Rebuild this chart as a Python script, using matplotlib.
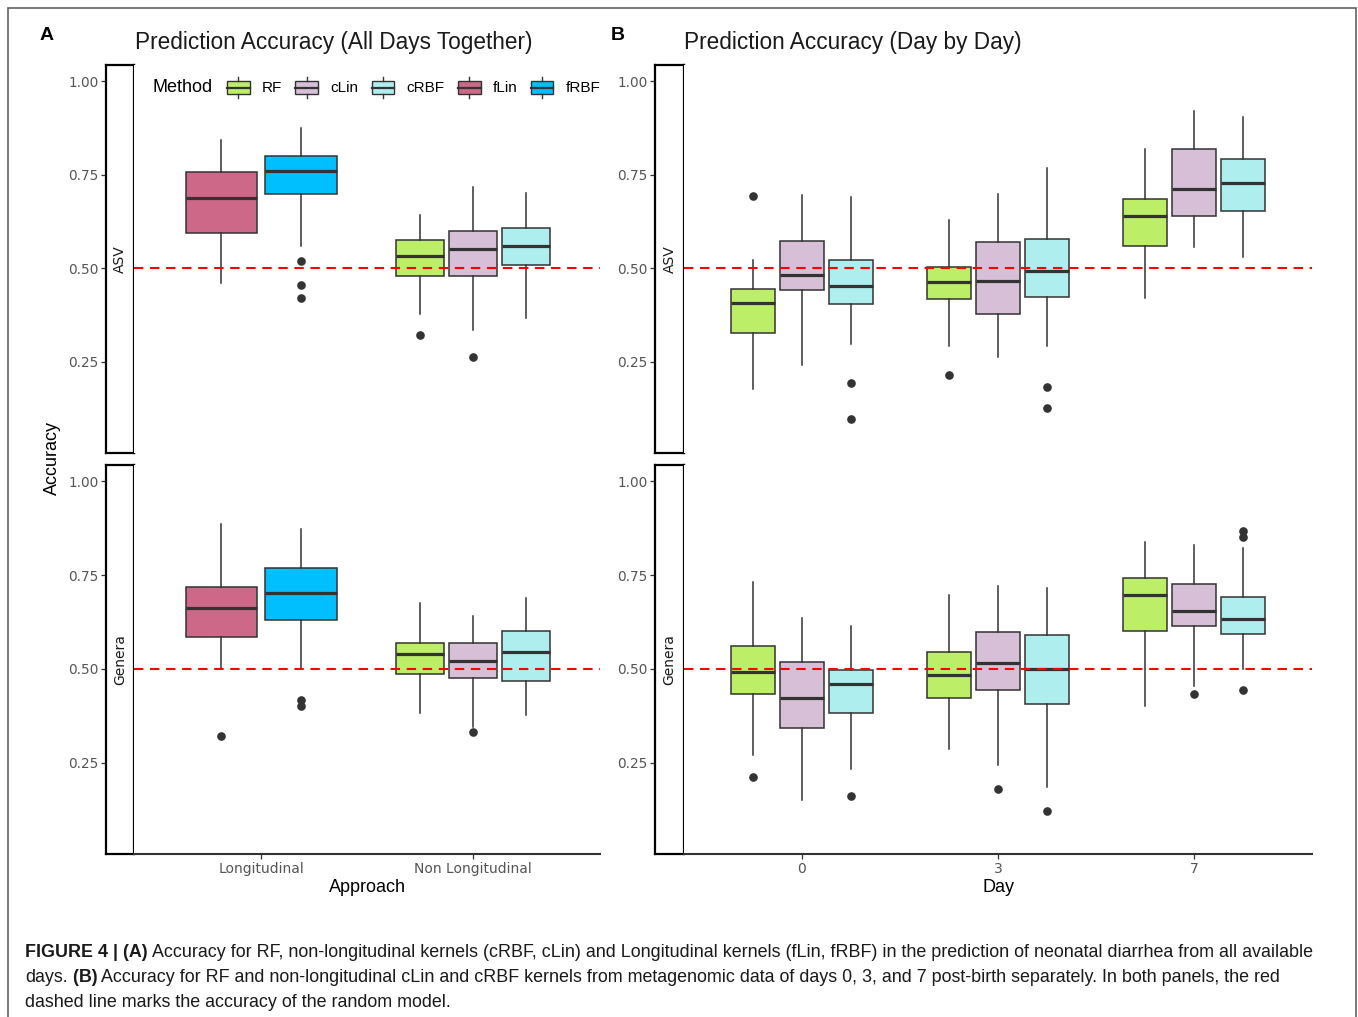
import matplotlib
matplotlib.use("Agg")
import matplotlib.pyplot as plt
from matplotlib.patches import Rectangle, Patch
from matplotlib.lines import Line2D
from matplotlib.legend_handler import HandlerBase
from matplotlib import font_manager as fm

W, H = 1358, 1017

# ---------------- data ----------------
methods = ["RF", "cLin", "cRBF", "fLin", "fRBF"]
method_colors = ["#BCEE68", "#D8BFD8", "#AFEEEE", "#CD6889", "#00BFFF"]

approaches = ["Longitudinal", "Non Longitudinal"]
a_approach = ["Longitudinal", "Longitudinal", "Non Longitudinal", "Non Longitudinal", "Non Longitudinal"]
a_method = ["fLin", "fRBF", "RF", "cLin", "cRBF"]

a_asv_lo = [0.460, 0.560, 0.377, 0.335, 0.367]
a_asv_q1 = [0.594, 0.699, 0.480, 0.480, 0.509]
a_asv_med = [0.688, 0.760, 0.533, 0.552, 0.560]
a_asv_q3 = [0.756, 0.801, 0.576, 0.601, 0.609]
a_asv_hi = [0.843, 0.874, 0.642, 0.717, 0.701]
a_asv_out = [[], [0.519, 0.456, 0.420], [0.321], [0.262], []]

a_gen_lo = [0.502, 0.502, 0.382, 0.344, 0.378]
a_gen_q1 = [0.585, 0.630, 0.487, 0.475, 0.468]
a_gen_med = [0.661, 0.703, 0.540, 0.521, 0.546]
a_gen_q3 = [0.717, 0.769, 0.570, 0.568, 0.601]
a_gen_hi = [0.887, 0.872, 0.675, 0.641, 0.689]
a_gen_out = [[0.322], [0.416, 0.400], [], [0.333], []]

days = ["0", "3", "7"]
b_day = ["0", "0", "0", "3", "3", "3", "7", "7", "7"]
b_method = ["RF", "cLin", "cRBF", "RF", "cLin", "cRBF", "RF", "cLin", "cRBF"]

b_asv_lo = [0.178, 0.243, 0.298, 0.293, 0.262, 0.293, 0.420, 0.556, 0.531]
b_asv_q1 = [0.327, 0.442, 0.404, 0.417, 0.379, 0.424, 0.561, 0.640, 0.653]
b_asv_med = [0.408, 0.483, 0.454, 0.464, 0.466, 0.494, 0.641, 0.713, 0.729]
b_asv_q3 = [0.446, 0.574, 0.523, 0.504, 0.571, 0.578, 0.686, 0.819, 0.791]
b_asv_hi = [0.521, 0.697, 0.690, 0.629, 0.698, 0.769, 0.818, 0.920, 0.903]
b_asv_out = [[0.692], [], [0.195, 0.098], [0.215], [], [0.183, 0.126], [], [], []]

b_gen_lo = [0.270, 0.150, 0.234, 0.287, 0.243, 0.186, 0.400, 0.454, 0.500]
b_gen_q1 = [0.433, 0.343, 0.383, 0.423, 0.445, 0.407, 0.602, 0.614, 0.592]
b_gen_med = [0.493, 0.422, 0.459, 0.483, 0.515, 0.499, 0.696, 0.655, 0.634]
b_gen_q3 = [0.560, 0.519, 0.498, 0.546, 0.599, 0.589, 0.743, 0.727, 0.691]
b_gen_hi = [0.731, 0.635, 0.614, 0.698, 0.722, 0.716, 0.837, 0.831, 0.821]
b_gen_out = [[0.213], [], [0.161], [], [0.179], [0.121], [], [0.432], [0.444, 0.867, 0.851]]

y_ticks = [0.25, 0.50, 0.75, 1.00]
random_acc = 0.5

# ---------------- style ----------------
plt.rcParams["font.family"] = ["Liberation Sans", "DejaVu Sans"]
avail = {f.name for f in fm.fontManager.ttflist}
cap_family = "Liberation Sans Narrow" if "Liberation Sans Narrow" in avail else "Liberation Sans"
color_of = dict(zip(methods, method_colors))
DARK = "#333333"
TICKCOL = "#555555"
YLIM = (0.007, 1.043)

fig = plt.figure(figsize=(W / 100, H / 100), dpi=100)


def rect(x0, y0, x1, y1):
    return [x0 / W, 1 - y1 / H, (x1 - x0) / W, (y1 - y0) / H]


def dodge(cats, order):
    pos, wid = [], []
    for i, c in enumerate(cats):
        members = [j for j, cc in enumerate(cats) if cc == c]
        n = len(members)
        k = members.index(i)
        base = order.index(c) + 1
        pos.append(base + (k - (n - 1) / 2) * 0.75 / n)
        wid.append(0.9 * 0.75 / n)
    return pos, wid


def facet(x0, x1, y0, y1, strip_x0, label, cats, order, meths, lo, q1, med, q3, hi, out, bottom, xlab):
    # strip with y axis
    sax = fig.add_axes(rect(strip_x0, y0, x0, y1))
    sax.set_ylim(*YLIM)
    sax.set_xlim(0, 1)
    sax.set_xticks([])
    sax.set_yticks(y_ticks)
    sax.set_yticklabels([f"{v:.2f}" for v in y_ticks], family="DejaVu Sans", fontsize=9.8, color=TICKCOL)
    sax.tick_params(axis="y", length=3.6, width=0.9, color=DARK, pad=1.5)
    for s in sax.spines.values():
        s.set_linewidth(1.6)
        s.set_color("black")
    sax.text(0.5, 0.5, label, rotation=90, ha="center", va="center", fontsize=10,
             family="DejaVu Sans", color="#1A1A1A", transform=sax.transAxes)

    ax = fig.add_axes(rect(x0, y0, x1, y1))
    ax.set_ylim(*YLIM)
    ax.set_xlim(0.4, len(order) + 0.6)
    ax.set_yticks([])
    for s in ["left", "right", "top"]:
        ax.spines[s].set_visible(False)
    pos, wid = dodge(cats, order)
    stats = [dict(whislo=lo[i], q1=q1[i], med=med[i], q3=q3[i], whishi=hi[i], fliers=out[i])
             for i in range(len(cats))]
    bp = ax.bxp(stats, positions=pos, widths=wid, patch_artist=True, showcaps=False,
                manage_ticks=False,
                boxprops=dict(edgecolor=DARK, linewidth=1.1),
                medianprops=dict(color=DARK, linewidth=2.3, solid_capstyle="butt"),
                whiskerprops=dict(color=DARK, linewidth=1.1),
                flierprops=dict(marker="o", markerfacecolor=DARK, markeredgecolor=DARK,
                                markersize=5.2))
    for b, m in zip(bp["boxes"], meths):
        b.set_facecolor(color_of[m])
    ax.axhline(random_acc, color="#FF0000", linewidth=1.5, linestyle=(0, (4.5, 3.2)), zorder=10)
    if bottom:
        ax.spines["bottom"].set_linewidth(1.5)
        ax.spines["bottom"].set_color(DARK)
        ax.set_xticks(range(1, len(order) + 1))
        ax.set_xticklabels(order, family="DejaVu Sans", fontsize=10, color=TICKCOL)
        ax.tick_params(axis="x", length=3.6, width=0.9, color=DARK, pad=2)
        fig.text((x0 + x1) / 2 / W, 1 - 888 / H, xlab, ha="center", va="center",
                 fontsize=13, color="black")
    else:
        ax.spines["bottom"].set_visible(False)
        ax.set_xticks([])
    return ax


# Panel A
facet(134, 600, 65, 453, 106, "ASV", a_approach, approaches, a_method,
      a_asv_lo, a_asv_q1, a_asv_med, a_asv_q3, a_asv_hi, a_asv_out, False, None)
facet(134, 600, 465, 854, 106, "Genera", a_approach, approaches, a_method,
      a_gen_lo, a_gen_q1, a_gen_med, a_gen_q3, a_gen_hi, a_gen_out, True, "Approach")
# Panel B
facet(684, 1312, 65, 453, 655, "ASV", b_day, days, b_method,
      b_asv_lo, b_asv_q1, b_asv_med, b_asv_q3, b_asv_hi, b_asv_out, False, None)
facet(684, 1312, 465, 854, 655, "Genera", b_day, days, b_method,
      b_gen_lo, b_gen_q1, b_gen_med, b_gen_q3, b_gen_hi, b_gen_out, True, "Day")

# titles and labels
fig.text(40 / W, 1 - 36 / H, "A", fontsize=14, fontweight="bold", ha="left", va="center")
fig.text(611 / W, 1 - 36 / H, "B", fontsize=14, fontweight="bold", ha="left", va="center")
fig.text(135 / W, 1 - 42 / H, "Prediction Accuracy (All Days Together)", fontsize=16.3,
         ha="left", va="center", color="#1A1A1A")
fig.text(684 / W, 1 - 42 / H, "Prediction Accuracy (Day by Day)", fontsize=16.3,
         ha="left", va="center", color="#1A1A1A")
fig.text(52 / W, 1 - 458 / H, "Accuracy", fontsize=13, rotation=90, ha="center", va="center")


# legend
class BoxKey(HandlerBase):
    def create_artists(self, legend, orig_handle, xdescent, ydescent, width, height, fontsize, trans):
        x0, y0 = -xdescent, -ydescent
        fc = orig_handle.get_facecolor()
        r = Rectangle((x0, y0 - 0.05 * height), width, 1.0 * height, facecolor=fc,
                      edgecolor=DARK, linewidth=1.0, transform=trans)
        m = Line2D([x0, x0 + width], [y0 + 0.45 * height] * 2, color=DARK, lw=1.6, transform=trans)
        xc = x0 + width / 2
        wt = Line2D([xc, xc], [y0 + 0.95 * height, y0 + 1.3 * height], color=DARK, lw=1.0, transform=trans)
        wb = Line2D([xc, xc], [y0 - 0.4 * height, y0 - 0.05 * height], color=DARK, lw=1.0, transform=trans)
        return [r, m, wt, wb]


fig.text(153 / W, 1 - 87 / H, "Method", fontsize=13, ha="left", va="center")
handles = [Patch(facecolor=c) for c in method_colors]
fig.legend(handles, methods, loc="center left", bbox_to_anchor=(227 / W, 1 - 88 / H),
           ncol=5, frameon=False, handler_map={Patch: BoxKey()}, fontsize=11,
           handlelength=1.5, handleheight=0.85, handletextpad=0.8, columnspacing=0.85,
           borderpad=0, borderaxespad=0)

# outer frame
fig.add_artist(Rectangle((8 / W, -0.02), (1356 - 8) / W, 1 - 8 / H + 0.02, fill=False,
                         edgecolor="#555555", linewidth=1.1, transform=fig.transFigure))

# caption
cax = fig.add_axes([0, 0, 1, 1])
cax.axis("off")
cax.set_zorder(-1)
cap_lines = [
    [("FIGURE 4 | (A)", True),
     (" Accuracy for RF, non-longitudinal kernels (cRBF, cLin) and Longitudinal kernels (fLin, fRBF) in the prediction of neonatal diarrhea from all available", False)],
    [("days.", False), (" (B)", True),
     (" Accuracy for RF and non-longitudinal cLin and cRBF kernels from metagenomic data of days 0, 3, and 7 post-birth separately. In both panels, the red", False)],
    [("dashed line marks the accuracy of the random model.", False)],
]
cap_bottoms = [961, 986, 1011]
cap_texts = []
line_pieces = []
for pieces, yb in zip(cap_lines, cap_bottoms):
    prev = None
    row = []
    for s, bold in pieces:
        kw = dict(fontsize=12, family=cap_family, fontweight="bold" if bold else "normal",
                  color="#1A1A1A", ha="left", va="bottom")
        if prev is None:
            t = cax.text(25 / W, 1 - yb / H, s, transform=cax.transAxes, **kw)
        else:
            t = cax.annotate(s, xy=(1, 0), xycoords=prev, **kw)
        prev = t
        row.append(t)
        cap_texts.append(t)
    line_pieces.append(row)

fig.canvas.draw()
r = fig.canvas.get_renderer()
x_left = line_pieces[0][0].get_window_extent(r).x0
x_right = line_pieces[0][-1].get_window_extent(r).x1
scale = (1309 - 25) / (x_right - x_left)
for t in cap_texts:
    t.set_fontsize(12 * scale)

fig.savefig("out.png", dpi=100)
